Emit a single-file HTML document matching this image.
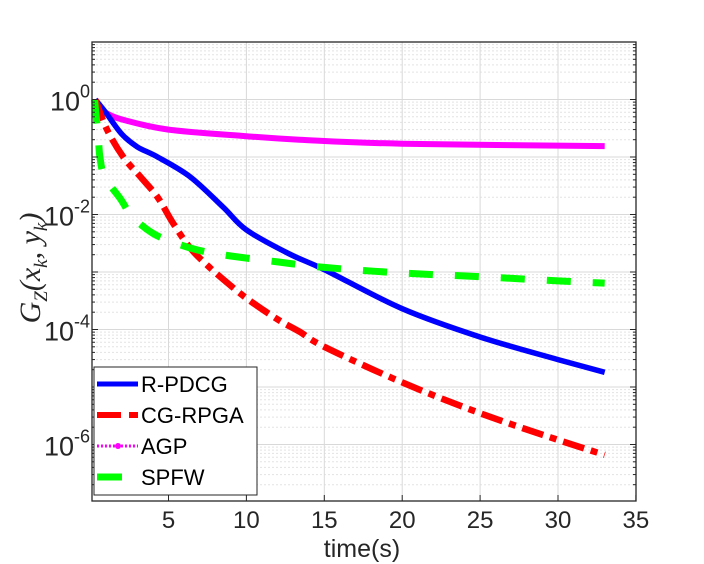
<!DOCTYPE html>
<html><head><meta charset="utf-8"><style>
body{margin:0;background:#fff;width:704px;height:564px;overflow:hidden}
svg{display:block;font-family:"Liberation Sans",sans-serif}
</style></head><body>
<svg id="chart" width="704" height="564" viewBox="0 0 704 564">
<g id="grid"></g>
<g id="series"></g>
<g id="axes"></g>
<text x="362" y="557" font-size="25" text-anchor="middle" fill="#262626">time(s)</text>
<text transform="translate(40,268) rotate(-90)" font-size="30" text-anchor="middle" fill="#262626" font-family="Liberation Serif,serif" font-style="italic">G<tspan font-size="19" dy="7">Z</tspan><tspan dy="-7">(x</tspan><tspan font-size="19" dy="7">k</tspan><tspan dy="-7">, y</tspan><tspan font-size="19" dy="7">k</tspan><tspan dy="-7">)</tspan></text>
<g id="legend"></g>
</svg>
<script>
const xTicks=[5,10,15,20,25,30,35];
const yTickExps=[0,-2,-4,-6];
const tBlue=[0.3,1,2,3,4.3,6.4,8.5,10,12.7,15,20,25,30,33];
const vBlue=[1,0.58,0.25,0.15,0.1,0.045,0.0135,0.0054,0.0021,0.0011,0.00023,0.000074,0.00003,0.000018];
const tRed=[0.3,1.05,2.1,3.2,4.3,5.3,6.4,7.5,8.5,10,12,13.4,15,20,25,30,33];
const vRed=[1,0.3,0.1,0.045,0.02,0.007,0.0026,0.0013,0.00075,0.00035,0.00015,0.000092,0.00005,0.000012,0.0000035,0.0000012,0.00000066];
const tMag=[0.3,0.6,1,2,5,10,13.4,20,33];
const vMag=[1,0.7,0.58,0.45,0.3,0.23,0.2,0.17,0.155];
const tGreen=[0.25,0.5,0.6,0.9,1.9,2.7,4,5.3,6.9,9,12,15,20,25,30,33];
const vGreen=[1,0.2,0.1,0.045,0.019,0.009,0.0047,0.0033,0.0024,0.0019,0.0015,0.0012,0.00096,0.00083,0.0007,0.00064];
const seriesNames=["R-PDCG","CG-RPGA","AGP","SPFW"];

const L=92,R=636,T=42,B=501;
const X=t=>90.6+t*15.58;
const Y=v=>99.5-Math.log10(v)*57.5;
const NS="http://www.w3.org/2000/svg";
function mk(tag,parent,attrs){const e=document.createElementNS(NS,tag);for(const k in attrs)e.setAttribute(k,attrs[k]);parent.appendChild(e);return e;}
const grid=document.getElementById('grid'),axes=document.getElementById('axes'),ser=document.getElementById('series'),leg=document.getElementById('legend');

for(let d=1;d>=-7;d--){
  for(let m=1;m<10;m++){
    const v=m*Math.pow(10,d);const y=Y(v);
    if(y<T||y>B)continue;
    const ln=mk('line',grid,{x1:L,x2:R,y1:y,y2:y,stroke:m===1?'#d9d9d9':'#e3e3e3','stroke-width':1,'stroke-dasharray':m===1?'':'2,2'});
    
    
    const tk=mk('line',axes,{x1:L,x2:L+(m===1?6:3),y1:y,y2:y,stroke:'#262626'});
    
    
    const tk2=mk('line',axes,{x1:R,x2:R-(m===1?6:3),y1:y,y2:y,stroke:'#262626'});
    
    
  }
}
xTicks.forEach(t=>{
  const x=X(t);
  if(t<35){const g=mk('line',grid,{x1:x,x2:x,y1:T,y2:B,stroke:'#d9d9d9'});
  
  }
  const tk=mk('line',axes,{x1:x,x2:x,y1:B,y2:B-6,stroke:'#262626'});
  
  
  const lb=mk('text',axes,{x:x,y:B+27,'font-size':24,'text-anchor':'middle',fill:'#262626'});
  lb.textContent=t;
  
  
});
yTickExps.forEach(e=>{
  const y=Y(Math.pow(10,e));
  const lb=mk('text',axes,{x:L-2,y:y+11,'font-size':27,'text-anchor':'end',fill:'#262626'});
  lb.innerHTML='10<tspan font-size="18" dy="-13">'+e+'</tspan>';
  
  
});
const frame=mk('rect',axes,{x:L,y:T,width:R-L,height:B-T,fill:'none',stroke:'#262626','stroke-width':1.3});



function path(ts,vs){
  const p=ts.map((t,i)=>[X(t),Y(vs[i])]);
  let d='M'+p[0][0].toFixed(1)+','+p[0][1].toFixed(1);
  for(let i=0;i<p.length-1;i++){
    const p0=p[Math.max(0,i-1)],p1=p[i],p2=p[i+1],p3=p[Math.min(p.length-1,i+2)];
    const c1=[p1[0]+(p2[0]-p0[0])/6,p1[1]+(p2[1]-p0[1])/6];
    const c2=[p2[0]-(p3[0]-p1[0])/6,p2[1]-(p3[1]-p1[1])/6];
    d+='C'+c1.map(v=>v.toFixed(1))+' '+c2.map(v=>v.toFixed(1))+' '+p2.map(v=>v.toFixed(1));
  }
  return d;
}
const styles=[
 {ts:tBlue,vs:vBlue,c:'#0000ff',w:5.5,d:''},
 {ts:tRed,vs:vRed,c:'#ff0000',w:6.5,d:'22,7,7,7'},
 {ts:tMag,vs:vMag,c:'#ff00ff',w:6,d:''},
 {ts:tGreen,vs:vGreen,c:'#00ff00',w:7,d:'24,22'}];
const order=[2,0,1,3];
order.forEach(i=>{
  const s=styles[i];
  const p=mk('path',ser,{d:path(s.ts,s.vs),fill:'none',stroke:s.c,'stroke-width':s.w,'stroke-dasharray':s.d,'stroke-linejoin':'round'});
  
  
});

const box=mk('rect',leg,{x:94,y:367,width:163,height:128,fill:'#fff',stroke:'#262626','stroke-width':1});


const ly=[384,415,446,477];
const lstyle=[['#0000ff',5,''],['#ff0000',6,'24,8'],['#ff00ff',3,'2,2'],['#00ff00',7,'']];
seriesNames.forEach((n,i)=>{
  const g=mk('g',leg,{});
  
  
  mk('line',g,{x1:97,x2:i===3?122:138,y1:ly[i],y2:ly[i],stroke:lstyle[i][0],'stroke-width':lstyle[i][1],'stroke-dasharray':lstyle[i][2]});
  if(i===2)mk('circle',g,{cx:118,cy:ly[i],r:3,fill:'#ff00ff'});
  const t=mk('text',g,{x:141,y:ly[i]+8,'font-size':22,fill:'#000'});
  t.textContent=n;
});
</script>
</body></html>
